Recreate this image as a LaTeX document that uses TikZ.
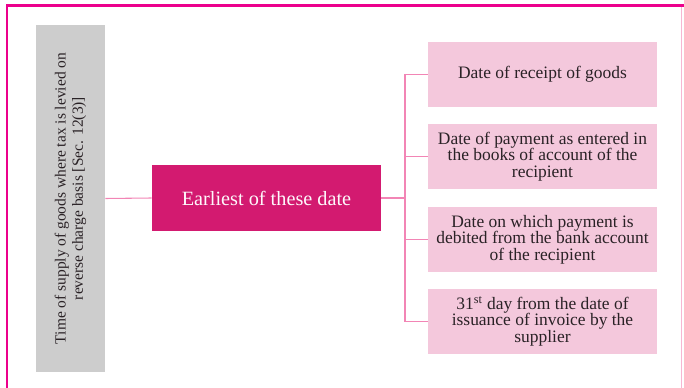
\documentclass[tikz,border=0pt]{standalone}
\usepackage{fontspec}
\setmainfont{Liberation Serif}
\usetikzlibrary{positioning,calc}
\definecolor{cframe}{HTML}{EC008C}
\definecolor{cmag}{HTML}{D31A70}
\definecolor{cpink}{HTML}{F4C8DC}
\definecolor{cgrey}{HTML}{CDCDCD}
\definecolor{clink}{HTML}{F285B5}
\definecolor{cink}{HTML}{2A2226}

\begin{document}
\begin{tikzpicture}[x=0.75pt, y=-0.75pt,
  side/.style={fill=cgrey, inner sep=0pt, align=center, rotate=90,
    minimum width=260.25pt, minimum height=51.75pt,
    font=\fontsize{11.6}{13}\selectfont, text=cink},
  hub/.style={fill=cmag, inner sep=0pt, minimum width=171.75pt,
    minimum height=49.5pt, font=\fontsize{15.2}{17}\selectfont,
    text=white!88!cpink},
  datebox/.style={fill=cpink, inner sep=0pt, align=center,
    minimum width=171.75pt, minimum height=48.75pt,
    font=\fontsize{13.1}{12.5}\selectfont, text=cink},
  link/.style={draw=clink, line width=0.8pt}]

\useasboundingbox (0,0) rectangle (684,388);

% page frame
\draw[cframe, line width=2.2pt] (7,388) -- (7,5.5) -- (684,5.5);
\draw[clink!60, line width=0.6pt] (681,7) -- (681,388);

\node[side] (tos) at (70.5,198.5)
  {Time of supply of goods where tax is levied on\\
   reverse charge basis [Sec. 12(3)]};
\node[hub] (earliest) at (266.5,198) {Earliest of these date};

\node[datebox] (d1) at (542.5,74.5) {Date of receipt of goods};
\node[datebox] (d2) at (542.5,156.5)
  {Date of payment as entered in\\ the books of account of the\\ recipient};
\node[datebox] (d3) at (542.5,239.5)
  {Date on which payment is\\ debited from the bank account\\ of the recipient};
\node[datebox] (d4) at (542.5,321.5)
  {31\textsuperscript{st} day from the date of\\ issuance of invoice by the\\ supplier};

\coordinate (fork) at (405,198);
\draw[link] (tos.south) -- (earliest.west);
\draw[link] (earliest.east) -- (fork);
\foreach \d in {d1,d2,d3,d4}
  \draw[link] (fork) |- (\d.west);
\end{tikzpicture}
\end{document}
